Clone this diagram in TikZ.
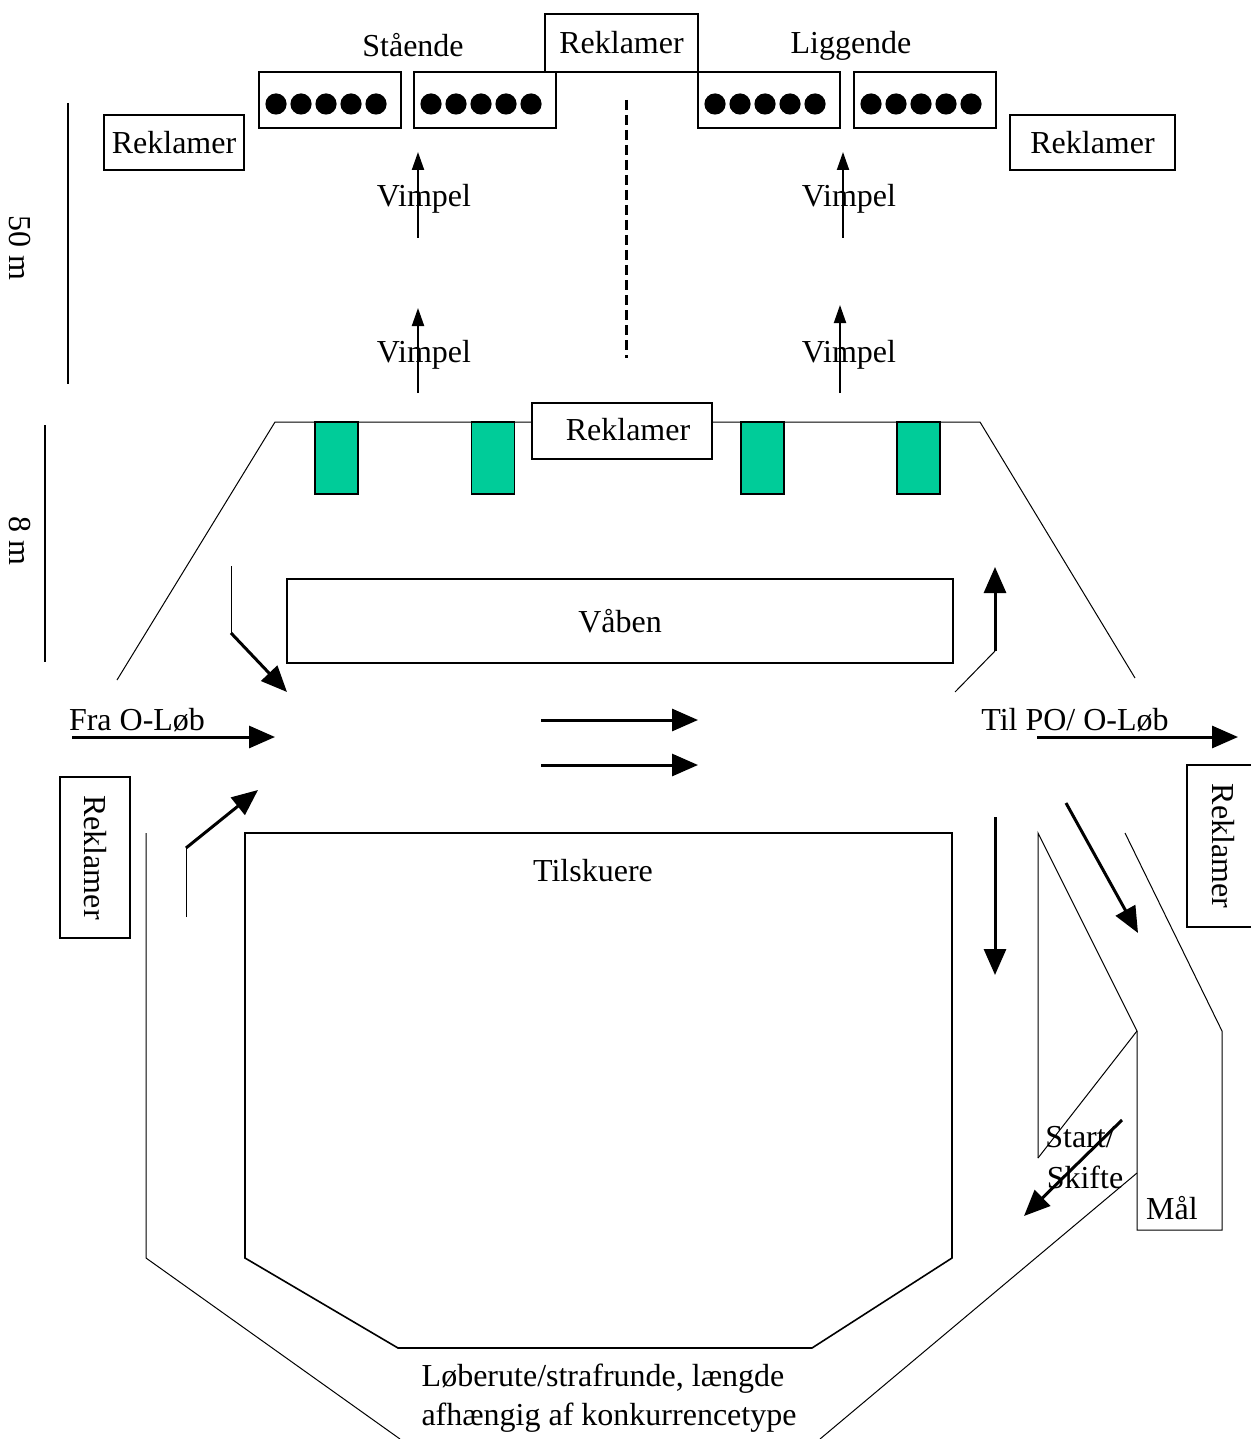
\documentclass[tikz,border=0pt]{standalone}
\usepackage{fontspec}
\setmainfont{Liberation Serif}
\usetikzlibrary{arrows.meta}
\definecolor{standgreen}{RGB}{0,204,153}
\begin{document}
\begin{tikzpicture}[x=0.5pt,y=-0.5pt,
  lbl/.style={font=\fontsize{16}{19}\selectfont, inner sep=0pt},
  boxn/.style={draw, line width=0.8pt, font=\fontsize{16}{19}\selectfont, inner sep=0pt, fill=white},
  standbox/.style={draw, line width=0.8pt, fill=standgreen, inner sep=0pt, minimum width=21.5pt, minimum height=36pt},
  dotbox/.style={draw, line width=0.8pt, inner sep=0pt, minimum width=71pt, minimum height=28pt},
  thinline/.style={line width=0.5pt},
  midline/.style={line width=0.8pt},
  bigarr/.style={line width=1.5pt, -{Triangle[length=13pt,width=11pt]}},
  varr/.style={line width=1pt, -{Triangle[length=9pt,width=6pt]}}
]
\useasboundingbox (0,0) rectangle (1250,1439);

% ---- top
\node[boxn, minimum width=76.5pt, minimum height=29pt] (rtop) at (621.5,43) {Reklamer};
\node[lbl] (stand) at (413,45) {Stående};
\node[lbl] (lig) at (851,46) {Liggende};
\node[dotbox] (d1) at (330,100) {};
\node[dotbox] (d2) at (485,100) {};
\node[dotbox] (d3) at (769,100) {};
\node[dotbox] (d4) at (925,100) {};
\foreach \s in {276,431,715,871}{
  \foreach \i in {0,...,4}{\fill (\s+25*\i,104) circle (5.3pt);}
}
\node[boxn, minimum width=70pt, minimum height=27.5pt] (rleft) at (174,142.5) {Reklamer};
\node[boxn, minimum width=82.5pt, minimum height=27.5pt] (rright) at (1092.5,142.5) {Reklamer};

% ---- scale lines
\coordinate (s50a) at (68,103); \coordinate (s50b) at (68,384);
\draw[midline] (s50a) -- (s50b);
\node[lbl, rotate=-90] (m50) at (20,248) {50 m};
\coordinate (s8a) at (45,425); \coordinate (s8b) at (45,662);
\draw[midline] (s8a) -- (s8b);
\node[lbl, rotate=-90] (m8) at (20,541) {8 m};

% ---- dashed centre line
\coordinate (da) at (626,100); \coordinate (db) at (626,358);
\draw[line width=1.5pt, dash pattern=on 5pt off 2.5pt] (da) -- (db);

% ---- vimpel
\node[lbl] (vim1) at (424,199) {Vimpel};
\node[lbl] (vim2) at (424,355) {Vimpel};
\node[lbl] (vim3) at (849,199) {Vimpel};
\node[lbl] (vim4) at (849,355) {Vimpel};
\coordinate (v1a) at (418,238); \coordinate (v1b) at (418,152);
\coordinate (v2a) at (418,393); \coordinate (v2b) at (418,308);
\coordinate (v3a) at (843,238); \coordinate (v3b) at (843,152);
\coordinate (v4a) at (840,393); \coordinate (v4b) at (840,305);
\draw[varr] (v1a) -- (v1b);
\draw[varr] (v2a) -- (v2b);
\draw[varr] (v3a) -- (v3b);
\draw[varr] (v4a) -- (v4b);

% ---- shooting line
\coordinate (tl) at (117,680); \coordinate (tla) at (275,422);
\coordinate (tra) at (980,422); \coordinate (tr) at (1135,678);
\draw[thinline] (tl) -- (tla) -- (tra) -- (tr);
\node[standbox] (g1) at (336.5,458) {};
\node[standbox] (g2) at (493,458) {};
\node[standbox] (g3) at (762.5,458) {};
\node[standbox] (g4) at (918.5,458) {};
\node[boxn, minimum width=90pt, minimum height=28pt, text depth=2pt] (rmid) at (622,431) {\hspace{6pt}Reklamer};

\node[boxn, minimum width=333pt, minimum height=42pt] (vaaben) at (620,621) {Våben};

% ---- arrows left
\coordinate (la1) at (231,566); \coordinate (la2) at (231,633); \coordinate (la3) at (287,692);
\draw[thinline] (la1) -- (la2);
\draw[bigarr] (la2) -- (la3);
\node[lbl] (fra) at (137,720) {Fra O-Løb};
\coordinate (fa) at (72,737); \coordinate (fb) at (275,737);
\draw[bigarr] (fa) -- (fb);
\coordinate (lb1) at (186,917); \coordinate (lb2) at (186,848); \coordinate (lb3) at (258,790);
\draw[thinline] (lb1) -- (lb2);
\draw[bigarr] (lb2) -- (lb3);

% ---- middle arrows
\coordinate (m1a) at (541,720); \coordinate (m1b) at (698,720);
\coordinate (m2a) at (541,765); \coordinate (m2b) at (698,765);
\draw[bigarr] (m1a) -- (m1b);
\draw[bigarr] (m2a) -- (m2b);

% ---- arrows right
\coordinate (ra1) at (955,692); \coordinate (ra2) at (995,651); \coordinate (ra3) at (995,567);
\draw[thinline] (ra1) -- (ra2);
\draw[bigarr] (ra2) -- (ra3);
\node[lbl] (til) at (1075,720) {Til PO/ O-Løb};
\coordinate (ta) at (1037,737); \coordinate (tb) at (1238,737);
\draw[bigarr] (ta) -- (tb);
\coordinate (dna) at (995,817); \coordinate (dnb) at (995,975);
\draw[bigarr] (dna) -- (dnb);
\coordinate (dga) at (1066,803); \coordinate (dgb) at (1138,933);
\draw[bigarr] (dga) -- (dgb);

% ---- side Reklamer
\node[boxn, rotate=-90, minimum width=80.5pt, minimum height=35pt] (rsl) at (95,857.5) {Reklamer};
\node[boxn, rotate=-90, minimum width=81pt, minimum height=36.5pt] (rsr) at (1223.5,846) {Reklamer};

% ---- spectators
\draw[midline] (245,833) -- (952,833) -- (952,1258) -- (812,1348) -- (398,1348) -- (245,1258) -- cycle;
\node[lbl] (tilsk) at (593,871) {Tilskuere};

% ---- outer track
\draw[thinline] (146,833) -- (146,1258) -- (400,1439);
\draw[thinline] (820,1439) -- (1137,1173);
\draw[thinline] (1038,1158) -- (1038,833) -- (1137,1031) -- (1137,1230) -- (1222,1230) -- (1222,1031) -- (1125,833);
\draw[thinline] (1038,1158) -- (1137,1031);
\node[lbl] (maal) at (1172,1208) {Mål};
\node[lbl] (start) at (1080,1137) {Start/};
\node[lbl] (skifte) at (1085,1177) {Skifte};
\coordinate (sa) at (1122,1120); \coordinate (sb) at (1024,1216);
\draw[bigarr] (sa) -- (sb);

\node[lbl] (lob1) at (603,1379) {Løberute/strafrunde, længde};
\node[lbl] (lob2) at (609,1418) {afhængig af konkurrencetype};
\end{tikzpicture}
\end{document}
